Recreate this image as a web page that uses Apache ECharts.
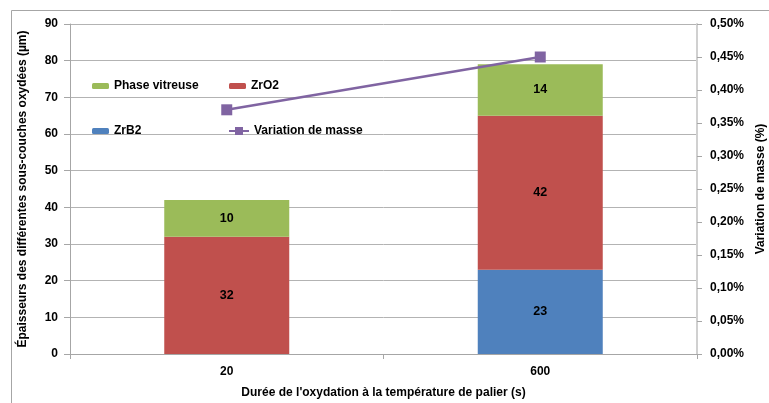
<!DOCTYPE html>
<html>
<head>
<meta charset="utf-8">
<script src="https://cdn.jsdelivr.net/npm/echarts@6/dist/echarts.min.js"></script>
<style>html,body{margin:0;padding:0;background:#fff}#c{width:769px;height:403px}</style>
</head>
<body>
<div id="c"></div>
<script>
const categories = ['20', '600'];
const zrb2 = [null, 23];
const zro2 = [32, 42];
const phaseVitreuse = [10, 14];
const variationMasse = [0.37, 0.45];
const leftTicks = { min: 0, max: 90, interval: 10 };
const rightTicks = { min: 0, max: 0.5, interval: 0.05 };

const FONT = 'Liberation Sans';
const txt = { fontFamily: FONT, fontWeight: 'bold', fontSize: 12, color: '#000' };
const chart = echarts.init(document.getElementById('c'));
const lbl = { show: true, position: 'inside', ...txt, fontSize: 12.5, formatter: p => p.value == null ? '' : p.value };
const legBase = { itemWidth: 17, itemHeight: 6, textStyle: { ...txt, fontSize: 12 }, padding: 0, itemGap: 3 };
chart.setOption({
  animation: false,
  graphic: [{ type: 'rect', shape: { x: 11.5, y: 10.5, width: 800, height: 420 }, style: { fill: 'none', stroke: '#a6a6a6', lineWidth: 1 }, z: -1 }],
  grid: { left: 70, right: 72, top: 24, bottom: 49, outerBoundsMode: 'none', containLabel: false },
  legend: [
    { ...legBase, data: ['Phase vitreuse'], left: 92, top: 80 },
    { ...legBase, data: ['ZrO2'], left: 229, top: 80 },
    { ...legBase, data: ['ZrB2'], left: 92, top: 125 },
    { ...legBase, data: ['Variation de masse'], left: 228, top: 125, itemWidth: 20, itemHeight: 10 }
  ],
  xAxis: {
    type: 'category', data: categories,
    name: "Durée de l'oxydation à la température de palier (s)", nameLocation: 'middle', nameGap: 33,
    nameTextStyle: txt,
    axisLine: { lineStyle: { color: '#a6a6a6' } },
    axisTick: { show: true, length: 5, lineStyle: { color: '#a6a6a6' } },
    axisLabel: { ...txt, margin: 12 }
  },
  yAxis: [{
    type: 'value', ...leftTicks,
    name: 'Épaisseurs des différentes sous-couches oxydées (µm)', nameLocation: 'middle', nameRotate: 90, nameGap: 41,
    nameTextStyle: txt,
    axisLine: { show: true, lineStyle: { color: '#a6a6a6' } },
    axisTick: { show: true, length: 6, lineStyle: { color: '#a6a6a6' } },
    axisLabel: { ...txt, margin: 12 },
    splitLine: { lineStyle: { color: '#b3b3b3' } }
  }, {
    type: 'value', position: 'right', ...rightTicks,
    name: 'Variation de masse (%)', nameLocation: 'middle', nameRotate: 90, nameGap: 55,
    nameTextStyle: txt,
    axisLine: { show: true, lineStyle: { color: '#d0d0d0', width: 2 } },
    axisTick: { show: true, length: 5, lineStyle: { color: '#a6a6a6' } },
    axisLabel: { ...txt, margin: 13, formatter: v => v.toFixed(2).replace('.', ',') + '%' },
    splitLine: { show: false }
  }],
  series: [
    { name: 'ZrB2', type: 'bar', stack: 's', data: zrb2, barWidth: 125, itemStyle: { color: '#4F81BD' }, label: lbl },
    { name: 'ZrO2', type: 'bar', stack: 's', data: zro2, itemStyle: { color: '#C0504D' }, label: lbl },
    { name: 'Phase vitreuse', type: 'bar', stack: 's', data: phaseVitreuse, itemStyle: { color: '#9BBB59' }, label: lbl },
    { name: 'Variation de masse', type: 'line', yAxisIndex: 1, data: variationMasse, symbol: 'rect', symbolSize: 11,
      lineStyle: { color: '#8064A2', width: 2.5 }, itemStyle: { color: '#8064A2' }, z: 5 }
  ]
});
</script>
</body>
</html>
